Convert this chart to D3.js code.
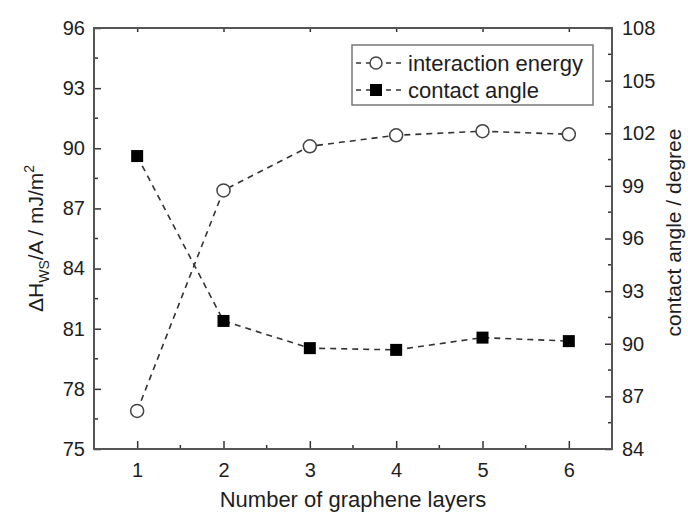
<!DOCTYPE html>
<html>
<head>
<meta charset="utf-8">
<script src="https://cdn.jsdelivr.net/npm/d3@7"></script>
<style>
  body { margin: 0; background: #fff; }
  svg { font-family: "Liberation Sans", Arial, sans-serif; }
</style>
</head>
<body>
<div id="chart"></div>
<script>
// data
const layers = [1, 2, 3, 4, 5, 6]
const interactionEnergy = [76.9, 87.9, 90.1, 90.65, 90.85, 90.7]   // left axis, mJ/m2
const contactAngle = [100.7, 91.3, 89.75, 89.65, 90.35, 90.15]     // right axis, degree
const leftTicks = [75, 78, 81, 84, 87, 90, 93, 96]
const rightTicks = [84, 87, 90, 93, 96, 99, 102, 105, 108]

const width = 688, height = 515
const margin = {left: 94, right: 76, top: 28, bottom: 66}
const axisColor = "#555"
const textColor = "#1e1e1e"

const svg = d3.select("#chart").append("svg")
    .attr("width", width)
    .attr("height", height)

const x = d3.scaleLinear().domain([0.5, 6.5]).range([margin.left, width - margin.right])
const yL = d3.scaleLinear().domain([75, 96]).range([height - margin.bottom, margin.top])
const yR = d3.scaleLinear().domain([84, 108]).range([height - margin.bottom, margin.top])

const x0 = x.range()[0], x1 = x.range()[1]
const y0 = yL.range()[0], y1 = yL.range()[1]

// minor ticks halfway between majors
const halves = arr => arr.slice(0, -1).map((d, i) => (d + arr[i + 1]) / 2)

// bottom axis (ticks inward)
const bottomAxis = svg.append("g")
    .attr("transform", `translate(0,${y0})`)
    .call(d3.axisBottom(x).tickValues(layers).tickSizeInner(-8).tickSizeOuter(0).tickPadding(14).tickFormat(d3.format("d")))
bottomAxis.append("g").selectAll("line")
    .data(halves(layers))
    .enter().append("line")
    .attr("class", "minor")
    .attr("x1", d => x(d)).attr("x2", d => x(d))
    .attr("y1", 0).attr("y2", -4)

// top axis: short ticks only
svg.append("g")
    .attr("transform", `translate(0,${y1})`)
    .call(d3.axisTop(x).tickValues(layers).tickSizeInner(-4).tickSizeOuter(0).tickFormat(""))

// left axis
const leftAxis = svg.append("g")
    .attr("transform", `translate(${x0},0)`)
    .call(d3.axisLeft(yL).tickValues(leftTicks).tickSizeInner(-7).tickSizeOuter(0).tickPadding(9))
leftAxis.append("g").selectAll("line")
    .data(halves(leftTicks))
    .enter().append("line")
    .attr("class", "minor")
    .attr("y1", d => yL(d)).attr("y2", d => yL(d))
    .attr("x1", 0).attr("x2", 4)

// right axis
const rightAxis = svg.append("g")
    .attr("transform", `translate(${x1},0)`)
    .call(d3.axisRight(yR).tickValues(rightTicks).tickSizeInner(-7).tickSizeOuter(0).tickPadding(10))
rightAxis.append("g").selectAll("line")
    .data(halves(rightTicks))
    .enter().append("line")
    .attr("class", "minor")
    .attr("y1", d => yR(d)).attr("y2", d => yR(d))
    .attr("x1", 0).attr("x2", -4)

// frame
svg.append("rect")
    .attr("x", x0).attr("y", y1)
    .attr("width", x1 - x0).attr("height", y0 - y1)
    .attr("fill", "none")
    .attr("stroke", axisColor)
    .attr("stroke-width", 2)

svg.selectAll(".domain").remove()
svg.selectAll(".tick line, line.minor")
    .attr("stroke", "#333")
    .attr("stroke-width", 1.5)
svg.selectAll(".tick text")
    .attr("font-size", 20)
    .attr("fill", textColor)
    .attr("font-family", "Liberation Sans, Arial, sans-serif")

// lines
const dash = "6,5"
const lineL = d3.line().x((d, i) => x(layers[i])).y(d => yL(d))
const lineR = d3.line().x((d, i) => x(layers[i])).y(d => yR(d))

svg.append("path")
    .datum(interactionEnergy)
    .attr("d", lineL)
    .attr("fill", "none")
    .attr("stroke", "#333")
    .attr("stroke-width", 1.6)
    .attr("stroke-dasharray", dash)

svg.append("path")
    .datum(contactAngle)
    .attr("d", lineR)
    .attr("fill", "none")
    .attr("stroke", "#333")
    .attr("stroke-width", 1.6)
    .attr("stroke-dasharray", dash)

// markers
svg.append("g").selectAll("circle")
    .data(interactionEnergy)
    .enter().append("circle")
    .attr("cx", (d, i) => x(layers[i]))
    .attr("cy", d => yL(d))
    .attr("r", 6.5)
    .attr("fill", "#fff")
    .attr("stroke", "#444")
    .attr("stroke-width", 1.5)

svg.append("g").selectAll("rect")
    .data(contactAngle)
    .enter().append("rect")
    .attr("x", (d, i) => x(layers[i]) - 6)
    .attr("y", d => yR(d) - 6)
    .attr("width", 12)
    .attr("height", 12)
    .attr("fill", "#000")

// legend
const legend = svg.append("g")
legend.append("rect")
    .attr("x", 352).attr("y", 45)
    .attr("width", 241).attr("height", 60)
    .attr("fill", "#fff")
    .attr("stroke", "#777")
    .attr("stroke-width", 1.5)

const legendRows = [
    {label: "interaction energy", y: 63, marker: "circle"},
    {label: "contact angle", y: 90, marker: "square"}
]
legendRows.forEach(r => {
    legend.append("line")
        .attr("x1", 356).attr("x2", 402)
        .attr("y1", r.y).attr("y2", r.y)
        .attr("stroke", "#333")
        .attr("stroke-width", 1.6)
        .attr("stroke-dasharray", "5,5")
    if (r.marker == "circle") {
        legend.append("circle")
            .attr("cx", 376).attr("cy", r.y).attr("r", 6)
            .attr("fill", "#fff").attr("stroke", "#444").attr("stroke-width", 1.5)
    } else {
        legend.append("rect")
            .attr("x", 370).attr("y", r.y - 6).attr("width", 12).attr("height", 12)
            .attr("fill", "#000")
    }
    legend.append("text")
        .attr("x", 408).attr("y", r.y)
        .attr("dy", "0.35em")
        .attr("font-size", 22)
        .attr("fill", textColor)
        .text(r.label)
})

// axis titles
svg.append("text")
    .attr("x", (x0 + x1) / 2)
    .attr("y", 507)
    .attr("text-anchor", "middle")
    .attr("font-size", 22)
    .attr("fill", textColor)
    .text("Number of graphene layers")

const yTitle = svg.append("text")
    .attr("transform", `translate(43,${(y0 + y1) / 2}) rotate(-90)`)
    .attr("text-anchor", "middle")
    .attr("font-size", 21)
    .attr("fill", textColor)
yTitle.append("tspan").text("ΔH")
yTitle.append("tspan").attr("font-size", 14).attr("dy", 6).text("WS")
yTitle.append("tspan").attr("dy", -6).text("/A / mJ/m")
yTitle.append("tspan").attr("font-size", 14).attr("dy", -9).text("2")

svg.append("text")
    .attr("transform", `translate(681,${(y0 + y1) / 2 - 6}) rotate(-90)`)
    .attr("text-anchor", "middle")
    .attr("font-size", 21)
    .attr("fill", textColor)
    .text("contact angle / degree")
</script>
</body>
</html>
